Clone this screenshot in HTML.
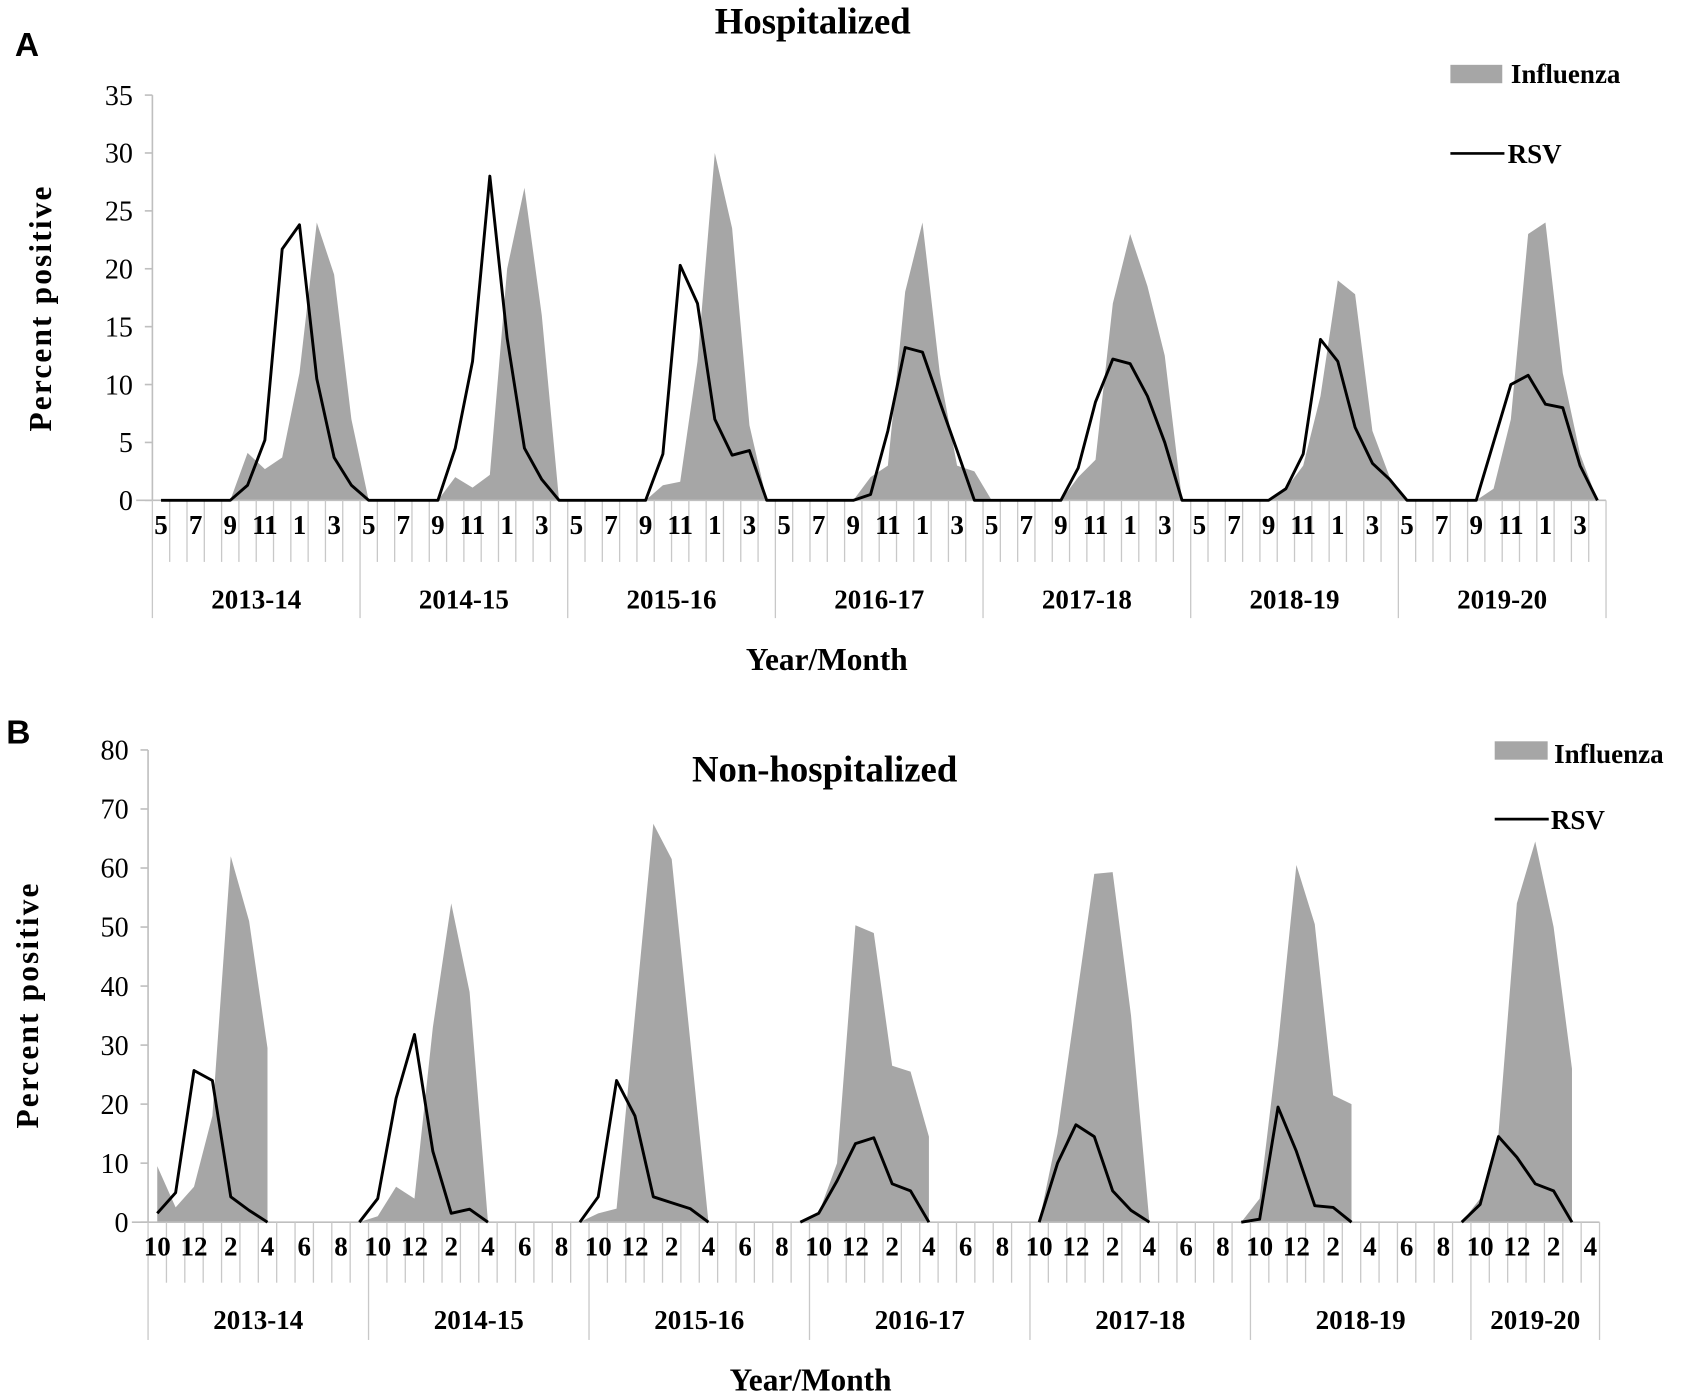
<!DOCTYPE html>
<html><head><meta charset="utf-8"><style>
html,body{margin:0;padding:0;background:#fff;}
svg{display:block;font-family:"Liberation Serif",serif;}
</style></head><body>
<svg id="svg" width="1686" height="1394" viewBox="0 0 1560 1290" preserveAspectRatio="none" xmlns="http://www.w3.org/2000/svg">
<text x="25" y="52" font-family="Liberation Sans,sans-serif" font-weight="bold" font-size="31" text-anchor="middle">A</text>
<text x="752" y="31" font-weight="bold" font-size="34" text-anchor="middle">Hospitalized</text>
<text x="765" y="620" font-weight="bold" font-size="29" text-anchor="middle">Year/Month</text>
<text transform="translate(47,285) rotate(-90)" font-weight="bold" font-size="29" letter-spacing="2" text-anchor="middle">Percent positive</text>
<rect x="1342" y="60" width="48" height="17" fill="#a6a6a6"/>
<text x="1398" y="77" font-weight="bold" font-size="25">Influenza</text>
<line x1="1342" y1="142" x2="1392" y2="142" stroke="#000" stroke-width="2.5"/>
<text x="1395" y="151" font-weight="bold" font-size="25">RSV</text>

<text x="17" y="688" font-family="Liberation Sans,sans-serif" font-weight="bold" font-size="31" text-anchor="middle">B</text>
<text x="763" y="723" font-weight="bold" font-size="34" text-anchor="middle">Non-hospitalized</text>
<text x="750" y="1287" font-weight="bold" font-size="29" text-anchor="middle">Year/Month</text>
<text transform="translate(35,930) rotate(-90)" font-weight="bold" font-size="29" letter-spacing="2" text-anchor="middle">Percent positive</text>
<rect x="1383" y="686" width="49" height="17" fill="#a6a6a6"/>
<text x="1438" y="706" font-weight="bold" font-size="25">Influenza</text>
<line x1="1383" y1="758" x2="1433" y2="758" stroke="#000" stroke-width="2.5"/>
<text x="1435" y="767" font-weight="bold" font-size="25">RSV</text>
<g id="ca"></g><g id="cb"></g>
</svg>
<script>
const seasons = ["2013-14","2014-15","2015-16","2016-17","2017-18","2018-19","2019-20"];
const monthsA = [5,6,7,8,9,10,11,12,1,2,3,4];
const fluA = [
 0,0,0,0,0,4.1,2.7,3.7,11,24,19.5,7,
 0,0,0,0,0,2,1.1,2.2,20,27,16,0,
 0,0,0,0,0,1.3,1.6,12,30,23.5,6.5,0,
 0,0,0,0,0,2,3,18,24,11,3,2.5,
 0,0,0,0,0,2,3.5,17,23,18.5,12.5,0,
 0,0,0,0,0,1,3,9,19,17.8,6,2,
 0,0,0,0,0,1,7,23,24,11,4,0];
const rsvA = [
 0,0,0,0,0,1.3,5.2,21.7,23.8,10.5,3.7,1.3,
 0,0,0,0,0,4.5,12,28,14,4.5,1.8,0,
 0,0,0,0,0,4,20.3,17,7,3.9,4.3,0,
 0,0,0,0,0,0.5,6,13.2,12.8,8.5,4.3,0,
 0,0,0,0,0,2.8,8.5,12.2,11.8,9,5,0,
 0,0,0,0,0,1,4,13.9,12,6.3,3.2,1.8,
 0,0,0,0,0,5,10,10.8,8.3,8,3,0];
const ticksA = [0,5,10,15,20,25,30,35];

const monthsB = [10,11,12,1,2,3,4,5,6,7,8,9];
const N = null;
const fluB = [
 9.5,2.5,6,18,62,51,29.5,N,N,N,N,0,
 1,6,4,33,54,39,0,N,N,N,N,0,
 1.5,2.3,35,67.5,61.5,31,0,N,N,N,N,0,
 1.5,10,50.3,49,26.5,25.5,14.5,N,N,N,N,N,
 0,15,37,59,59.3,35,0,N,N,N,N,0,
 4,30,60.5,50.5,21.5,20,N,N,N,N,N,0,
 4,15,54,64.5,50,26,N];
const rsvB = [
 1.5,5,25.7,24,4.3,2,0,N,N,N,N,0,
 4,21,31.8,12,1.5,2.2,0,N,N,N,N,0,
 4.3,24,18,4.3,3.3,2.3,0,N,N,N,N,0,
 1.5,7,13.3,14.3,6.5,5.3,0,N,N,N,N,N,
 0,10,16.5,14.5,5.3,2,0,N,N,N,N,0,
 0.5,19.5,12,2.8,2.5,0,N,N,N,N,N,0,
 3,14.5,11,6.5,5.3,0,N];
const ticksB = [0,10,20,30,40,50,60,70,80];

const NS="http://www.w3.org/2000/svg";
function mk(parent,tag,attrs,txt){const e=document.createElementNS(NS,tag);for(const k in attrs)e.setAttribute(k,attrs[k]);if(txt!==undefined)e.textContent=txt;parent.appendChild(e);return e;}

function chart(g,cfg){
  const {x0,x1,y0,y1,ymax,flu,rsv,months,ticks,name,yearY,tickBottom,groupBottom}=cfg;
  const n=flu.length, mw=(x1-x0)/n;
  const X=i=>x0+mw*(i+0.5);
  const Y=v=>y0-(v/ymax)*(y0-y1);
  let seg=[];
  const flush=()=>{ if(seg.length){ let d=`M${X(seg[0])},${y0}`; seg.forEach(i=>d+=`L${X(i)},${Y(flu[i])}`); d+=`L${X(seg[seg.length-1])},${y0}Z`;
    const p=mk(g,'path',{d:d,fill:'#a6a6a6'});
    
     } seg=[]; };
  for(let i=0;i<n;i++){ if(flu[i]===null) flush(); else seg.push(i);} flush();
  const ax=mk(g,'line',{x1:x0,y1:y1,x2:x0,y2:y0,stroke:'#bfbfbf','stroke-width':1.5});
   
  ticks.forEach(t=>{
    mk(g,'line',{x1:x0-7,y1:Y(t),x2:x0,y2:Y(t),stroke:'#bfbfbf','stroke-width':1.5});
    const tx=mk(g,'text',{x:x0-18,y:Y(t)+9,'font-size':26,'text-anchor':'end'},t);
     
  });
  const xa=mk(g,'line',{x1:x0-15,y1:y0,x2:x1,y2:y0,stroke:'#bfbfbf','stroke-width':1.5});
   
  for(let i=0;i<=n;i++){
    const isGroup = (i%12===0)||i===n;
    mk(g,'line',{x1:x0+mw*i,y1:y0,x2:x0+mw*i,y2:isGroup?groupBottom:tickBottom,stroke:'#c8c8c8','stroke-width':1.2});
  }
  for(let i=0;i<n;i++){
    if(i%2===0){
      const tx=mk(g,'text',{x:X(i),y:y0+31,'font-size':25,'font-weight':'bold','text-anchor':'middle'},months[i%12]);
       
    }
  }
  seasons.forEach((s,k)=>{
    const a=x0+mw*12*k, b=Math.min(x1,x0+mw*12*(k+1));
    const tx=mk(g,'text',{x:(a+b)/2,y:yearY,'font-size':25,'font-weight':'bold','text-anchor':'middle'},s);
     
  });
  let d='',pen=false;
  for(let i=0;i<n;i++){ if(rsv[i]===null){pen=false;continue;} d+=(pen?'L':'M')+X(i)+','+Y(rsv[i]); pen=true; }
  const l=mk(g,'path',{d:d,fill:'none',stroke:'#000','stroke-width':2.7,'stroke-linejoin':'round'});
   
}
chart(document.getElementById('ca'),{x0:141,x1:1486,y0:463,y1:88,ymax:35,flu:fluA,rsv:rsvA,months:monthsA,ticks:ticksA,name:'chart-a',yearY:563,tickBottom:520,groupBottom:572});
chart(document.getElementById('cb'),{x0:137,x1:1480,y0:1131,y1:694,ymax:80,flu:fluB,rsv:rsvB,months:monthsB,ticks:ticksB,name:'chart-b',yearY:1230,tickBottom:1187,groupBottom:1240});
</script>
</body></html>
